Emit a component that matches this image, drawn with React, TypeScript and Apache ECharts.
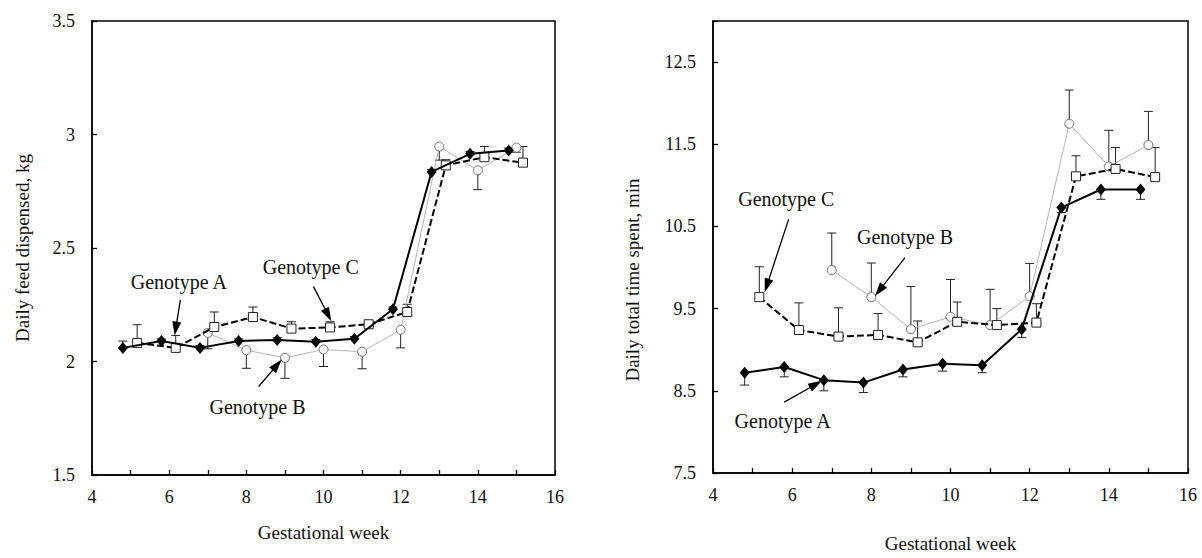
import React, { useEffect, useRef } from "react";
import * as echarts from "echarts";

const FONT = "'Liberation Serif', 'Times New Roman', 'DejaVu Serif', serif";

// Gestational week positions of each genotype (A slightly left, C slightly right)
const weeksA = [4.8, 5.8, 6.8, 7.8, 8.8, 9.8, 10.8, 11.8, 12.8, 13.8, 14.8];
const weeksB = [7, 8, 9, 10, 11, 12, 13, 14, 15];
const weeksC = [5.17, 6.17, 7.17, 8.17, 9.17, 10.17, 11.17, 12.17, 13.17, 14.17, 15.17];

// Left panel: daily feed dispensed, kg
const feedA = [2.06, 2.09, 2.06, 2.09, 2.095, 2.087, 2.1, 2.23, 2.835, 2.915, 2.93];
const feedAErr = [0.03, 0.01, 0.01, 0.01, 0.01, 0.01, 0.01, 0.01, 0.01, 0.01, 0.01];
const feedB = [2.126, 2.05, 2.016, 2.053, 2.043, 2.14, 2.947, 2.842, 2.942];
const feedBErr = [0.07, 0.08, 0.09, 0.075, 0.075, 0.08, 0.06, 0.085, 0.02];
const feedC = [2.082, 2.06, 2.152, 2.196, 2.145, 2.15, 2.164, 2.218, 2.864, 2.9, 2.876];
const feedCErr = [0.08, 0.055, 0.066, 0.044, 0.03, 0.025, 0.01, 0.034, 0.025, 0.047, 0.071];

// Right panel: daily total time spent, min
const timeA = [8.72, 8.79, 8.63, 8.6, 8.76, 8.83, 8.81, 9.25, 10.73, 10.95, 10.95];
const timeAErr = [0.15, 0.12, 0.13, 0.12, 0.09, 0.09, 0.09, 0.1, 0.06, 0.12, 0.12];
const timeB = [9.97, 9.64, 9.25, 9.4, 9.3, 9.65, 11.75, 11.23, 11.49];
const timeBErr = [0.45, 0.415, 0.52, 0.455, 0.435, 0.4, 0.41, 0.44, 0.41];
const timeC = [9.64, 9.24, 9.16, 9.18, 9.09, 9.34, 9.3, 9.33, 11.11, 11.2, 11.1];
const timeCErr = [0.37, 0.33, 0.35, 0.26, 0.26, 0.24, 0.2, 0.23, 0.25, 0.26, 0.36];

// Annotations (data coordinates)
const feedLabelPos = { A: [6.25, 2.35], B: [8.29, 1.8], C: [9.67, 2.416] };
const feedArrows = {
  A: [[6.29, 2.27], [6.17, 2.145]],
  B: [[8.32, 1.89], [8.8, 1.985]],
  C: [[9.74, 2.33], [10.12, 2.205]],
};
const timeLabelPos = { A: [5.76, 8.13], B: [8.85, 10.376], C: [5.85, 10.835] };
const timeArrows = {
  A: [[5.8, 8.363], [6.6, 8.58]],
  B: [[8.85, 10.12], [8.2, 9.72]],
  C: [[5.91, 10.586], [5.36, 9.78]],
};

const xTicks = { min: 4, max: 16, interval: 1 };
const feedTicks = { min: 1.5, max: 3.5, interval: 0.5 };
const timeTicks = { min: 7.5, max: 13, interval: 1 };

function errorSeries(xs: number[], ys: number[], errs: number[], dir: number, axis: number) {
  return {
    type: "custom",
    xAxisIndex: axis,
    yAxisIndex: axis,
    silent: true,
    z: 1,
    data: xs.map((x, i) => [x, ys[i], ys[i] + dir * errs[i]]),
    encode: { x: 0, y: [1, 2] },
    renderItem: (_p: any, api: any) => {
      const p0 = api.coord([api.value(0), api.value(1)]);
      const p1 = api.coord([api.value(0), api.value(2)]);
      const hw = 4.5;
      const st = { stroke: "#222", lineWidth: 1 };
      return {
        type: "group",
        children: [
          { type: "line", shape: { x1: p0[0], y1: p0[1], x2: p1[0], y2: p1[1] }, style: st },
          { type: "line", shape: { x1: p1[0] - hw, y1: p1[1], x2: p1[0] + hw, y2: p1[1] }, style: st },
        ],
      };
    },
  };
}

function annotations(name: string, pos: number[], arrow: number[][]) {
  return {
    markPoint: {
      silent: true,
      symbol: "rect",
      symbolSize: 1,
      itemStyle: { color: "rgba(0,0,0,0)" },
      label: {
        show: true,
        position: "inside",
        formatter: "{b}",
        color: "#111",
        fontSize: 20,
        fontFamily: FONT,
      },
      data: [{ name, coord: pos }],
    },
    markLine: {
      silent: true,
      symbol: ["none", "triangle"],
      symbolSize: [9, 14],
      lineStyle: { color: "#000", width: 1.3, type: "solid" },
      itemStyle: { color: "#000" },
      label: { show: false },
      emphasis: { disabled: true },
      data: [[{ coord: arrow[0] }, { coord: arrow[1] }]],
    },
  };
}

function lineSeries(kind: "A" | "B" | "C", xs: number[], ys: number[], axis: number, pos: any, arrows: any) {
  const base: any = {
    type: "line",
    name: "Genotype " + kind,
    xAxisIndex: axis,
    yAxisIndex: axis,
    data: xs.map((x, i) => [x, ys[i]]),
    showSymbol: true,
    ...annotations("Genotype " + kind, pos[kind], arrows[kind]),
  };
  if (kind === "A") {
    return {
      ...base,
      z: 5,
      symbol: "diamond",
      symbolSize: [10, 12],
      lineStyle: { color: "#000", width: 2 },
      itemStyle: { color: "#000" },
    };
  }
  if (kind === "B") {
    return {
      ...base,
      z: 3,
      symbol: "circle",
      symbolSize: 9,
      lineStyle: { color: "#b5b5b5", width: 1 },
      itemStyle: { color: "#fff", borderColor: "#707070", borderWidth: 1 },
    };
  }
  return {
    ...base,
    z: 4,
    symbol: "rect",
    symbolSize: 9,
    lineStyle: { color: "#000", width: 2, type: [7, 3] },
    itemStyle: { color: "#fff", borderColor: "#222", borderWidth: 1 },
  };
}

function xAxis(gridIndex: number, gap: number) {
  return {
    type: "value",
    gridIndex,
    ...xTicks,
    name: "Gestational week",
    nameLocation: "middle",
    nameGap: gap,
    nameTextStyle: { fontFamily: FONT, fontSize: 19, color: "#111" },
    splitLine: { show: false },
    axisLine: { show: true, lineStyle: { color: "#000", width: 1.5 } },
    axisTick: { show: true, inside: true, length: 5, lineStyle: { color: "#000", width: 1.3 } },
    axisLabel: {
      fontFamily: FONT,
      fontSize: 18,
      color: "#111",
      margin: 13,
      formatter: (v: number) => (Math.round(v) % 2 === 0 ? String(v) : ""),
    },
  };
}

function yAxis(gridIndex: number, ticks: any, hideTop: boolean) {
  return {
    type: "value",
    gridIndex,
    ...ticks,
    splitLine: { show: false },
    axisLine: { show: true, lineStyle: { color: "#000", width: 1.5 } },
    axisTick: { show: true, inside: true, length: 5, lineStyle: { color: "#000", width: 1.3 } },
    axisLabel: {
      fontFamily: FONT,
      fontSize: 18,
      color: "#111",
      margin: 17,
      formatter: (v: number) => (hideTop && v === ticks.max ? "" : String(v)),
    },
  };
}

export default function App() {
  const ref = useRef<HTMLDivElement>(null);
  useEffect(() => {
    if (!ref.current) return;
    const chart = echarts.init(ref.current, undefined, { renderer: "svg" });
    chart.setOption({
      animation: false,
      backgroundColor: "#fff",
      grid: [
        { left: 92, top: 21, width: 463, height: 454, show: true, borderColor: "#000", borderWidth: 1.5, backgroundColor: "transparent" },
        { left: 713, top: 21, width: 475, height: 456, show: true, borderColor: "#000", borderWidth: 1.5, backgroundColor: "transparent" },
      ],
      xAxis: [xAxis(0, 48), xAxis(1, 61)],
      yAxis: [yAxis(0, feedTicks, false), yAxis(1, timeTicks, true)],
      graphic: [
        {
          type: "text",
          x: 22,
          y: 248,
          rotation: Math.PI / 2,
          style: { text: "Daily feed dispensed, kg", fontFamily: FONT, fontSize: 19, fill: "#111", align: "center", verticalAlign: "middle" },
        },
        {
          type: "text",
          x: 632,
          y: 280,
          rotation: Math.PI / 2,
          style: { text: "Daily total time spent, min", fontFamily: FONT, fontSize: 19, fill: "#111", align: "center", verticalAlign: "middle" },
        },
      ],
      series: [
        errorSeries(weeksA, feedA, feedAErr, 1, 0),
        errorSeries(weeksB, feedB, feedBErr, -1, 0),
        errorSeries(weeksC, feedC, feedCErr, 1, 0),
        lineSeries("B", weeksB, feedB, 0, feedLabelPos, feedArrows),
        lineSeries("C", weeksC, feedC, 0, feedLabelPos, feedArrows),
        lineSeries("A", weeksA, feedA, 0, feedLabelPos, feedArrows),
        errorSeries(weeksA, timeA, timeAErr, -1, 1),
        errorSeries(weeksB, timeB, timeBErr, 1, 1),
        errorSeries(weeksC, timeC, timeCErr, 1, 1),
        lineSeries("B", weeksB, timeB, 1, timeLabelPos, timeArrows),
        lineSeries("C", weeksC, timeC, 1, timeLabelPos, timeArrows),
        lineSeries("A", weeksA, timeA, 1, timeLabelPos, timeArrows),
      ],
    });
    return () => chart.dispose();
  }, []);
  return (
    <div
      ref={ref}
      style={{ position: "absolute", left: 0, top: 0, width: 1202, height: 558, background: "#fff" }}
    />
  );
}
